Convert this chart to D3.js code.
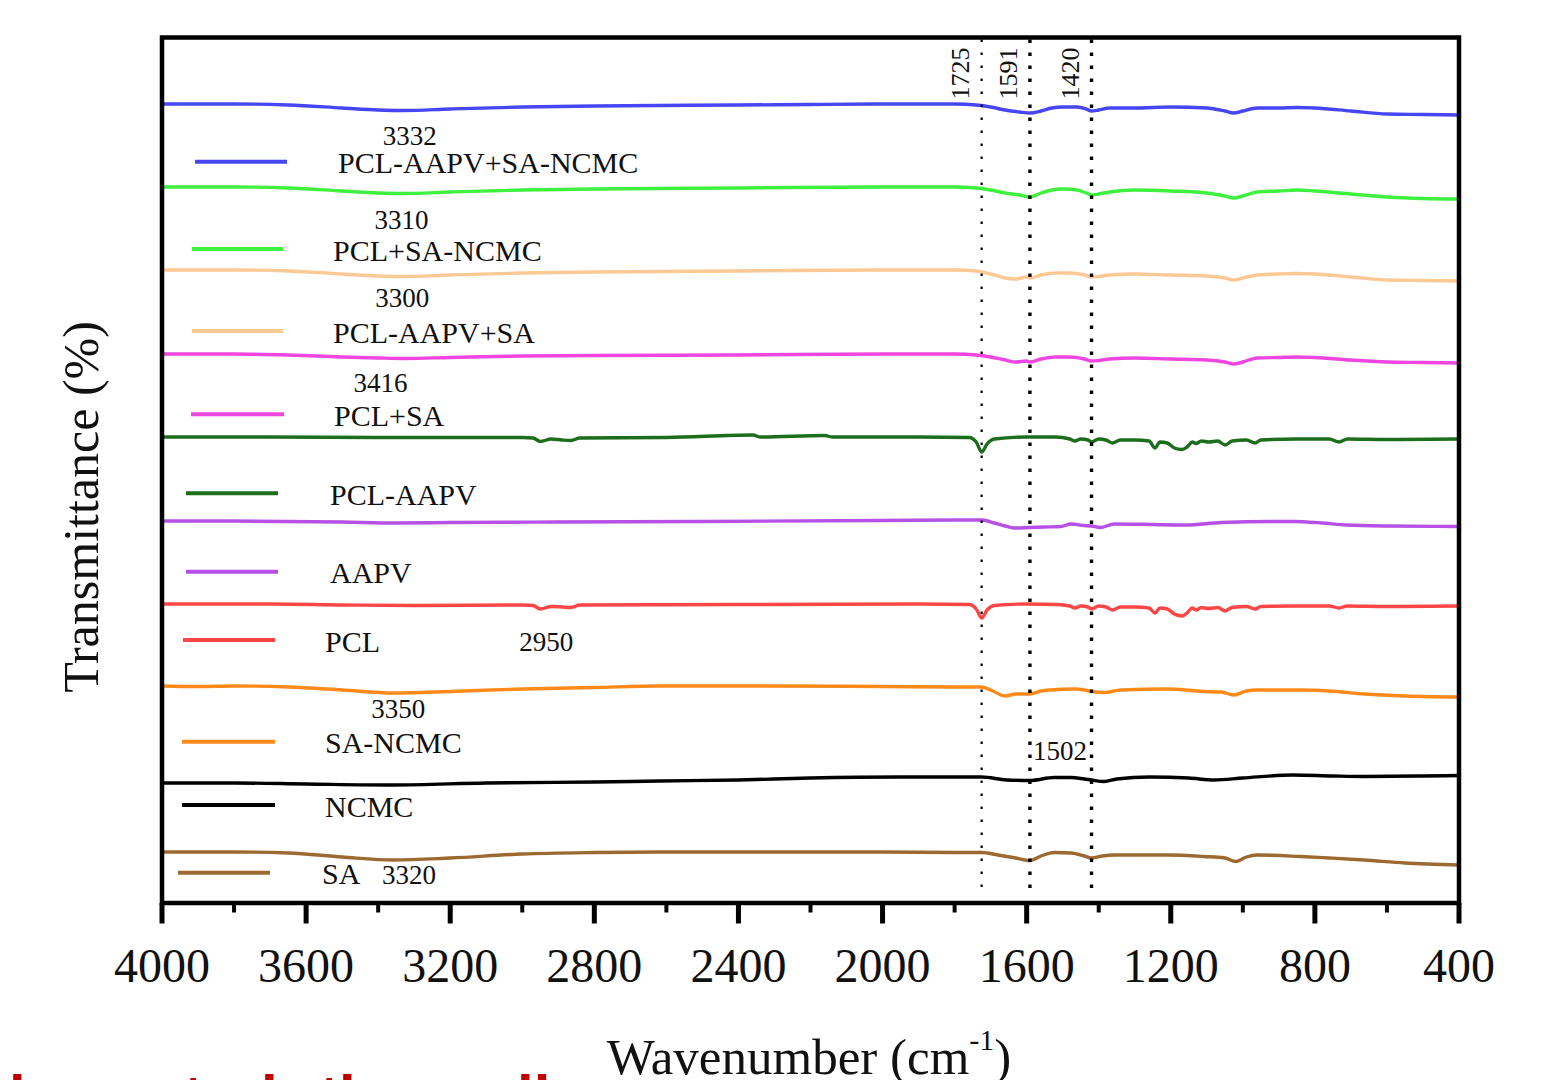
<!DOCTYPE html>
<html>
<head>
<meta charset="utf-8">
<script src="https://cdn.jsdelivr.net/npm/d3@7"></script>
<style>
  html, body { margin: 0; padding: 0; background: #fff; }
  svg { display: block; }
  text { font-family: "Liberation Serif", "DejaVu Serif", serif; fill: #111; }
</style>
</head>
<body>
<svg id="chart" width="1554" height="1080"></svg>
<script>
// ---- data: stacked FTIR spectra, [wavenumber cm-1, transmittance (a.u., offset)] ----
var SAMPLES = ["PCL-AAPV+SA-NCMC", "PCL+SA-NCMC", "PCL-AAPV+SA", "PCL+SA", "PCL-AAPV",
               "AAPV", "PCL", "SA-NCMC", "NCMC", "SA"];

var tPclAapvSaNcmc = [[4000,79.9],[3800,79.9],[3650,79.8],[3500,79.5],[3400,79.3],[3330,79.25],[3200,79.4],
  [3000,79.6],[2800,79.7],[2400,79.8],[2200,79.85],[2000,79.9],[1800,79.9],[1740,79.8],[1700,79.6],[1660,79.3],
  [1620,79.1],[1591,79.0],[1560,79.2],[1530,79.5],[1500,79.6],[1460,79.6],[1435,79.4],[1420,79.2],[1400,79.3],
  [1370,79.5],[1300,79.5],[1200,79.6],[1100,79.5],[1050,79.2],[1025,79.0],[1000,79.2],[960,79.5],[900,79.5],
  [850,79.55],[800,79.5],[700,79.2],[600,78.9],[500,78.85],[400,78.8]];

var tPclSaNcmc = [[4000,71.6],[3800,71.6],[3650,71.5],[3500,71.2],[3400,71.0],[3330,70.95],[3200,71.1],
  [3000,71.3],[2800,71.4],[2400,71.5],[2000,71.6],[1800,71.6],[1740,71.5],[1700,71.3],[1660,71.0],[1620,70.8],
  [1591,70.6],[1560,71.0],[1530,71.3],[1500,71.4],[1460,71.3],[1435,71.0],[1420,70.8],[1400,70.9],[1370,71.1],
  [1300,71.3],[1200,71.2],[1100,71.0],[1050,70.7],[1025,70.5],[1000,70.7],[960,71.1],[900,71.2],[850,71.3],
  [800,71.2],[700,70.9],[600,70.6],[500,70.45],[400,70.4]];

var tPclAapvSa = [[4000,63.3],[3800,63.3],[3650,63.2],[3500,62.9],[3400,62.7],[3330,62.65],[3200,62.8],
  [3000,63.0],[2800,63.1],[2400,63.2],[2000,63.3],[1800,63.3],[1740,63.2],[1700,62.9],[1660,62.5],[1630,62.4],
  [1600,62.6],[1591,62.5],[1560,62.8],[1520,63.0],[1480,63.0],[1440,62.8],[1420,62.6],[1400,62.65],[1370,62.8],
  [1300,62.9],[1200,62.8],[1100,62.7],[1050,62.5],[1025,62.3],[1000,62.5],[960,62.8],[900,62.9],[850,62.95],
  [800,62.9],[700,62.6],[600,62.3],[500,62.25],[400,62.2]];

var tPclSa = [[4000,54.9],[3800,54.9],[3650,54.8],[3500,54.6],[3400,54.5],[3330,54.45],[3200,54.55],
  [3000,54.7],[2800,54.75],[2400,54.8],[2000,54.9],[1800,54.9],[1740,54.8],[1700,54.6],[1660,54.3],[1630,54.1],
  [1600,54.2],[1591,54.1],[1560,54.4],[1520,54.6],[1480,54.6],[1440,54.4],[1420,54.2],[1400,54.25],[1370,54.4],
  [1300,54.5],[1200,54.4],[1100,54.3],[1050,54.1],[1025,53.9],[1000,54.1],[960,54.5],[900,54.55],[850,54.6],
  [800,54.55],[700,54.3],[600,54.1],[500,54.05],[400,54.0]];

var tPclAapv = [[4000,46.6],[3700,46.6],[3400,46.55],[3000,46.55],[2970,46.5],[2950,46.15],[2920,46.4],
  [2890,46.3],[2865,46.25],[2840,46.5],[2600,46.55],[2360,46.8],[2340,46.6],[2160,46.75],[2140,46.6],[1900,46.6],
  [1760,46.55],[1740,46.1],[1725,45.1],[1710,45.9],[1690,46.4],[1600,46.6],[1520,46.6],[1480,46.4],[1466,46.2],
  [1450,46.4],[1430,46.3],[1420,46.1],[1400,46.4],[1380,46.3],[1362,46.0],[1340,46.3],[1300,46.3],[1260,46.2],
  [1244,45.5],[1230,46.1],[1210,46.0],[1190,45.5],[1169,45.35],[1155,45.6],[1140,46.1],[1130,45.95],[1115,46.2],
  [1095,46.1],[1070,46.2],[1049,45.8],[1030,46.2],[990,46.3],[966,46.0],[950,46.3],[850,46.4],[760,46.4],
  [733,46.1],[710,46.4],[600,46.35],[400,46.4]];

var tAapv = [[4000,38.2],[3800,38.2],[3500,38.1],[3350,38.0],[3200,38.05],[2900,38.1],[2500,38.15],
  [2000,38.25],[1800,38.3],[1725,38.3],[1690,38.0],[1660,37.7],[1635,37.5],[1591,37.55],[1550,37.6],[1505,37.65],
  [1477,37.9],[1440,37.75],[1420,37.7],[1396,37.55],[1357,37.9],[1250,37.85],[1157,37.8],[1060,38.05],
  [900,38.15],[861,38.15],[780,38.0],[713,37.8],[600,37.7],[400,37.65]];

var tPcl = [[4000,29.9],[3700,29.9],[3500,29.8],[3300,29.75],[3000,29.8],[2970,29.75],[2950,29.4],[2920,29.65],
  [2890,29.6],[2865,29.55],[2840,29.8],[2400,29.85],[1900,29.9],[1760,29.85],[1740,29.4],[1725,28.5],[1710,29.3],
  [1690,29.75],[1600,29.9],[1520,29.85],[1480,29.7],[1466,29.5],[1450,29.7],[1430,29.6],[1420,29.4],[1400,29.7],
  [1380,29.6],[1362,29.3],[1340,29.6],[1300,29.6],[1260,29.5],[1244,29.0],[1230,29.5],[1210,29.4],[1190,28.9],
  [1169,28.7],[1155,29.0],[1140,29.5],[1130,29.3],[1115,29.55],[1095,29.45],[1070,29.55],[1049,29.2],[1030,29.55],
  [990,29.65],[966,29.4],[950,29.65],[850,29.7],[760,29.7],[733,29.5],[710,29.7],[600,29.65],[400,29.7]];

var tSaNcmc = [[4000,21.7],[3900,21.65],[3800,21.7],[3650,21.6],[3500,21.3],[3358,21.0],[3200,21.15],
  [3000,21.4],[2800,21.55],[2618,21.7],[2400,21.7],[2000,21.65],[1800,21.6],[1725,21.6],[1700,21.3],[1660,20.7],
  [1630,20.9],[1591,20.9],[1560,21.2],[1535,21.3],[1466,21.4],[1440,21.3],[1420,21.15],[1385,21.05],[1338,21.3],
  [1208,21.4],[1108,21.15],[1060,21.1],[1025,20.8],[990,21.2],[961,21.3],[841,21.3],[760,21.2],[663,20.9],
  [550,20.7],[400,20.6]];

var tNcmc = [[4000,12.0],[3800,12.0],[3600,11.9],[3358,11.8],[3100,12.0],[2800,12.1],[2618,12.2],[2400,12.3],
  [2200,12.5],[1952,12.6],[1800,12.6],[1725,12.6],[1655,12.3],[1591,12.25],[1524,12.55],[1477,12.55],[1440,12.4],
  [1420,12.3],[1385,12.15],[1350,12.4],[1258,12.6],[1150,12.5],[1080,12.3],[1000,12.5],[861,12.8],[750,12.7],
  [663,12.65],[500,12.7],[400,12.75]];

var tSa = [[4000,5.1],[3800,5.1],[3650,5.0],[3500,4.6],[3358,4.3],[3200,4.5],[3000,4.9],[2800,5.05],[2618,5.1],
  [2400,5.1],[2000,5.1],[1800,5.05],[1725,5.05],[1680,4.8],[1630,4.5],[1591,4.25],[1560,4.7],[1524,5.05],
  [1477,5.0],[1440,4.7],[1420,4.5],[1390,4.7],[1357,4.8],[1208,4.8],[1108,4.65],[1050,4.5],[1019,4.15],[990,4.6],
  [961,4.8],[841,4.65],[760,4.5],[663,4.3],[550,4.0],[400,3.8]];

var SPECTRA = [tPclAapvSaNcmc, tPclSaNcmc, tPclAapvSa, tPclSa, tPclAapv, tAapv, tPcl, tSaNcmc, tNcmc, tSa];

// band assignments written on the figure
var BAND_WN = [3332, 3310, 3300, 3416, 2950, 3350, 3320, 1502];
var PEAK_LINES = [1725, 1591, 1420];
var X_MAJOR = [4000, 3600, 3200, 2800, 2400, 2000, 1600, 1200, 800, 400];
var X_MINOR = [3800, 3400, 3000, 2600, 2200, 1800, 1400, 1000, 600];

(function () {
  // ---- styles / layout (not data) ----
  var COLORS = ["#4646f4", "#3ff03f", "#fcc894", "#ee46de", "#1c6e1c",
                "#b650e6", "#ff4646", "#ff8a1a", "#000000", "#9c6a30"];
  // legend rows: line x1, x2, line y (px)
  var LEGEND_ROWS = [[195,287,161.7],[192,283,249],[192,283,331],[191,284,414.3],[186,278,493.3],
                     [186,278,571.7],[183,275,640],[182,275,741.7],[182,275,805],[178,270,872.7]];
  var LEGEND_TEXT_X = [338, 333, 333, 334, 330, 330, 325, 325, 325, 322];
  // placement of each band label: vertical level (data units) and horizontal nudge (px)
  var BAND_LEVEL = [75.8, 67.4, 59.6, 51.1, 25.2, 18.5, 1.9, 14.3];
  var BAND_DX = [7, -9, -12, 8, 6, 2, 2, -2];

  var svg = d3.select("#chart");
  var pl = 162, pt = 37.5, pr = 1459, pb = 903;
  var iw = pr - pl, ih = pb - pt;

  var x = d3.scaleLinear().domain([4000, 400]).range([0, iw]);
  var y = d3.scaleLinear().domain([0, ih / 10]).range([ih, 0]);

  var g = svg.append("g").attr("transform", "translate(" + pl + "," + pt + ")");

  // --- spectra ---
  var line = d3.line()
    .x(function (d) { return x(d[0]); })
    .y(function (d) { return y(d[1]); })
    .curve(d3.curveMonotoneX);

  g.selectAll(".spec").data(SPECTRA).enter().append("path")
    .attr("class", "spec")
    .attr("d", line)
    .attr("fill", "none")
    .attr("stroke", function (d, i) { return COLORS[i]; })
    .attr("stroke-width", 3.4)
    .attr("stroke-linejoin", "round");

  // --- dotted marker lines ---
  g.selectAll(".peak").data(PEAK_LINES).enter().append("line")
    .attr("x1", function (d) { return x(d); }).attr("x2", function (d) { return x(d); })
    .attr("y1", 2).attr("y2", ih - 6)
    .attr("stroke", "#000")
    .attr("stroke-width", function (d, i) { return i === 0 ? 2.2 : 3.4; })
    .attr("stroke-dasharray", function (d, i) { return i === 0 ? "2.5 10.5" : "3.4 9.6"; });

  g.selectAll(".peak-lab").data(PEAK_LINES).enter().append("text")
    .attr("transform", function (d) { return "translate(" + (x(d) - 13) + ",62) rotate(-90)"; })
    .style("font-size", "26px")
    .text(function (d) { return d; });

  // --- band labels ---
  g.selectAll(".band").data(BAND_WN).enter().append("text")
    .attr("x", function (d, i) { return x(d) + BAND_DX[i]; })
    .attr("y", function (d, i) { return y(BAND_LEVEL[i]); })
    .attr("text-anchor", "middle")
    .style("font-size", "27px")
    .text(function (d) { return d; });

  // --- legend ---
  var leg = svg.append("g");
  leg.selectAll(".leg-line").data(SAMPLES).enter().append("line")
    .attr("x1", function (d, i) { return LEGEND_ROWS[i][0]; })
    .attr("x2", function (d, i) { return LEGEND_ROWS[i][1]; })
    .attr("y1", function (d, i) { return LEGEND_ROWS[i][2]; })
    .attr("y2", function (d, i) { return LEGEND_ROWS[i][2]; })
    .attr("stroke", function (d, i) { return COLORS[i]; })
    .attr("stroke-width", 4);
  leg.selectAll(".leg-text").data(SAMPLES).enter().append("text")
    .attr("x", function (d, i) { return LEGEND_TEXT_X[i]; })
    .attr("y", function (d, i) { return LEGEND_ROWS[i][2] + 11.5; })
    .style("font-size", "30px")
    .text(function (d) { return d; });

  // --- frame + bottom axis ---
  g.append("rect").attr("x", 0).attr("y", 0).attr("width", iw).attr("height", ih)
    .attr("fill", "none").attr("stroke", "#000").attr("stroke-width", 4.5);

  var axis = g.append("g").attr("transform", "translate(0," + ih + ")");
  axis.selectAll(".major").data(X_MAJOR).enter().append("line")
    .attr("x1", function (d) { return x(d); }).attr("x2", function (d) { return x(d); })
    .attr("y1", 0).attr("y2", 20.5).attr("stroke", "#000").attr("stroke-width", 5);
  axis.selectAll(".minor").data(X_MINOR).enter().append("line")
    .attr("x1", function (d) { return x(d); }).attr("x2", function (d) { return x(d); })
    .attr("y1", 0).attr("y2", 9.5).attr("stroke", "#000").attr("stroke-width", 4);
  axis.selectAll(".tl").data(X_MAJOR).enter().append("text")
    .attr("x", function (d) { return x(d); }).attr("y", 79)
    .attr("text-anchor", "middle")
    .style("font-size", "48px")
    .text(function (d) { return d; });

  // --- axis titles ---
  var xt = svg.append("text").attr("x", 809).attr("y", 1074)
    .attr("text-anchor", "middle").style("font-size", "51px");
  xt.append("tspan").text("Wavenumber (cm");
  xt.append("tspan").attr("dy", -24).style("font-size", "30px").text("-1");
  xt.append("tspan").attr("dy", 24).text(")");

  svg.append("text")
    .attr("transform", "translate(98,507) rotate(-90)")
    .attr("text-anchor", "middle")
    .style("font-size", "50px")
    .text("Transmittance (%)");

  // --- cut-off red caption line at the very bottom (only ascenders show) ---
  var cap = svg.append("text").attr("y", 1117)
    .style("font-family", "'Liberation Sans', Arial, sans-serif")
    .style("font-weight", "bold").style("font-size", "60px").style("fill", "#c00000");
  [["lower", 9], ["to", 183], ["in", 261], ["the", 319], ["lines", 517]].forEach(function (w) {
    cap.append("tspan").attr("x", w[1]).text(w[0]);
  });
})();
</script>
</body>
</html>
